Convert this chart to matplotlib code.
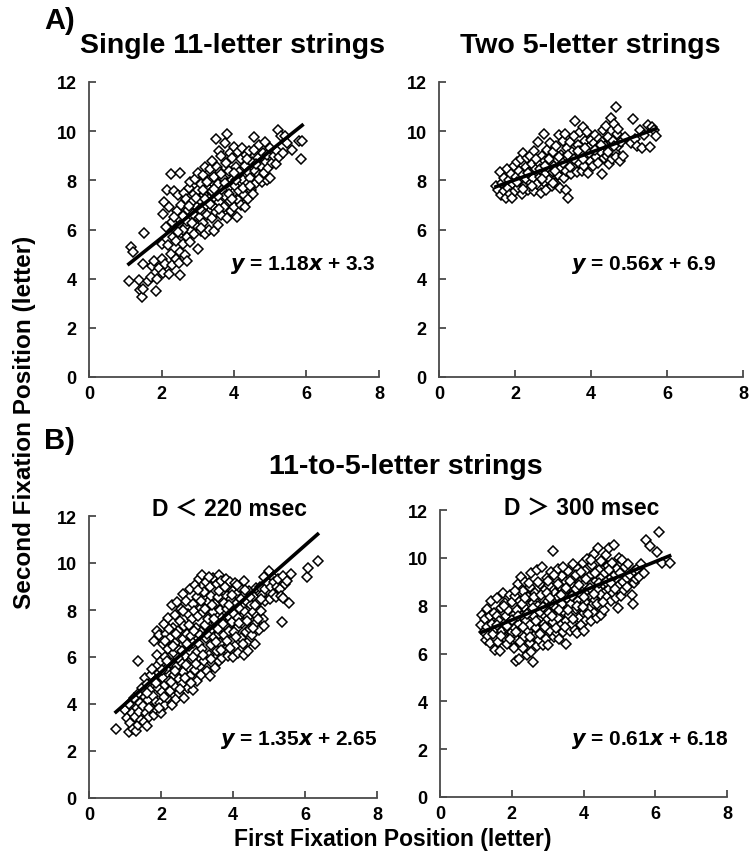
import matplotlib
matplotlib.use("Agg")
import matplotlib.pyplot as plt
import numpy as np

plt.rcParams['font.family'] = ['Liberation Sans', 'DejaVu Sans']
plt.rcParams['font.weight'] = 'bold'

# Single 11-letter strings (first fixation, second fixation)
single_pts = [
    (1.10, 3.90), (1.15, 5.30), (1.22, 5.10), (1.38, 3.95), (1.40, 3.55), (1.45, 3.25), (1.48, 3.60),
    (1.50, 4.60), (1.52, 5.85), (1.62, 3.90), (1.70, 4.05), (1.75, 4.50), (1.80, 4.70), (1.85, 3.50),
    (1.88, 4.00), (1.92, 4.45),
    (2.00, 4.80), (2.02, 5.40), (2.05, 4.25), (2.05, 6.65), (2.08, 7.10), (2.10, 4.60), (2.12, 6.10),
    (2.15, 7.60), (2.18, 5.35), (2.20, 4.20), (2.22, 6.90), (2.25, 5.00), (2.25, 8.25), (2.28, 6.30),
    (2.30, 4.55), (2.32, 5.70), (2.35, 7.55), (2.38, 6.00), (2.40, 4.80), (2.40, 5.55), (2.42, 6.75),
    (2.45, 7.40), (2.48, 4.65), (2.50, 8.30), (2.50, 6.20), (2.50, 4.15),
    (2.52, 5.10), (2.55, 5.85), (2.55, 7.00), (2.58, 6.55), (2.60, 5.40), (2.62, 7.50), (2.65, 4.95),
    (2.65, 6.10), (2.68, 7.25), (2.70, 4.70), (2.70, 5.70), (2.72, 6.80), (2.75, 7.70), (2.78, 5.50),
    (2.80, 6.40), (2.80, 7.95), (2.82, 5.95), (2.85, 7.10), (2.88, 6.65), (2.90, 5.80), (2.90, 7.45),
    (2.92, 8.05), (2.95, 6.20), (2.98, 6.90), (3.00, 5.20), (3.00, 7.60),
    (3.02, 8.30), (3.05, 6.50), (3.05, 7.20), (3.08, 5.95), (3.10, 7.85), (3.12, 6.80), (3.15, 8.20),
    (3.15, 6.25), (3.18, 7.40), (3.20, 5.80), (3.20, 8.55), (3.22, 7.00), (3.25, 6.60), (3.28, 7.70),
    (3.30, 8.00), (3.30, 6.00), (3.32, 7.25), (3.35, 8.45), (3.38, 6.45), (3.40, 7.55), (3.40, 8.80),
    (3.42, 6.95), (3.45, 5.95), (3.45, 8.15), (3.48, 7.30), (3.50, 9.70), (3.50, 6.70),
    (3.52, 8.55), (3.55, 7.85), (3.55, 6.20), (3.58, 9.20), (3.60, 7.10), (3.62, 8.35), (3.65, 6.60),
    (3.65, 9.00), (3.68, 7.60), (3.70, 8.10), (3.72, 6.90), (3.75, 9.50), (3.75, 7.35), (3.78, 8.70),
    (3.80, 6.45), (3.80, 9.90), (3.82, 7.90), (3.85, 8.40), (3.88, 7.15), (3.90, 9.10), (3.92, 6.75),
    (3.95, 8.00), (3.95, 8.90), (3.98, 7.50), (4.00, 9.35), (4.00, 6.90),
    (4.02, 7.75), (4.05, 8.55), (4.08, 6.50), (4.10, 7.20), (4.10, 9.15), (4.12, 8.20), (4.15, 7.55),
    (4.18, 8.85), (4.20, 7.00), (4.22, 9.30), (4.25, 8.00), (4.28, 7.40), (4.30, 6.90), (4.30, 8.60),
    (4.32, 9.05), (4.35, 7.85), (4.38, 8.35), (4.40, 7.25), (4.42, 9.20), (4.45, 8.10), (4.48, 7.60),
    (4.50, 8.75),
    (4.52, 7.45), (4.55, 9.25), (4.55, 9.75), (4.58, 8.40), (4.60, 7.90), (4.65, 8.90), (4.68, 8.20),
    (4.70, 9.45), (4.75, 8.60), (4.78, 7.95), (4.80, 9.10), (4.82, 8.30), (4.85, 9.55), (4.88, 8.75),
    (4.90, 8.00), (4.92, 9.05), (4.95, 8.50), (5.00, 8.10), (5.00, 9.30),
    (5.05, 8.70), (5.10, 9.00), (5.15, 8.65), (5.18, 9.20), (5.20, 10.05), (5.25, 8.95), (5.30, 9.80),
    (5.35, 9.10), (5.40, 9.80), (5.45, 9.50), (5.60, 9.25), (5.80, 9.60), (5.88, 9.60), (5.85, 8.85),
    (2.60, 6.00), (2.70, 6.35), (2.85, 6.25), (2.95, 7.30), (3.05, 6.85), (3.15, 7.60), (3.25, 7.95),
    (3.35, 7.05), (3.45, 7.65), (3.55, 7.35), (3.65, 8.25), (3.75, 7.90), (3.85, 7.45), (3.95, 7.25),
    (4.05, 8.00), (4.15, 8.35), (4.25, 7.70), (4.35, 8.85), (4.45, 7.75), (4.60, 8.65), (4.70, 8.05),
    (2.35, 6.50), (2.45, 5.90), (3.10, 6.05), (3.60, 6.85), (4.00, 8.30), (3.20, 7.25), (2.75, 6.95),
]

# Two 5-letter strings
two_pts = [
    (1.50, 7.75), (1.55, 7.60), (1.60, 8.35), (1.62, 7.40), (1.65, 7.90), (1.70, 8.10), (1.72, 7.55),
    (1.75, 7.30), (1.80, 8.45), (1.82, 7.70), (1.85, 8.00), (1.88, 7.45), (1.90, 8.25), (1.92, 7.30),
    (1.95, 7.85), (1.98, 8.60), (2.00, 7.55),
    (2.02, 8.15), (2.05, 8.75), (2.08, 7.70), (2.10, 8.40), (2.12, 7.95), (2.15, 8.85), (2.18, 7.45),
    (2.20, 8.20), (2.22, 9.10), (2.25, 7.80), (2.28, 8.55), (2.30, 8.05), (2.32, 8.90), (2.35, 7.60),
    (2.38, 8.35), (2.40, 9.00), (2.42, 7.90), (2.45, 8.65), (2.48, 8.10), (2.50, 7.55), (2.50, 9.20),
    (2.55, 8.45), (2.58, 7.85), (2.60, 9.55), (2.62, 8.70), (2.65, 8.15), (2.68, 7.50), (2.70, 9.00),
    (2.72, 8.40), (2.75, 9.90), (2.75, 7.95), (2.78, 8.80), (2.80, 8.25), (2.82, 7.60), (2.85, 9.25),
    (2.88, 8.55), (2.90, 8.00), (2.92, 9.50), (2.95, 8.75), (2.98, 7.75), (3.00, 8.35), (3.00, 9.15),
    (3.02, 8.60), (3.05, 7.90), (3.08, 9.40), (3.10, 8.85), (3.12, 8.20), (3.15, 9.85), (3.18, 7.70),
    (3.20, 9.05), (3.22, 8.50), (3.25, 9.60), (3.28, 8.10), (3.30, 8.90), (3.32, 9.90), (3.35, 7.60),
    (3.35, 8.40), (3.38, 9.30), (3.40, 7.30), (3.42, 8.75), (3.45, 9.55), (3.48, 8.25), (3.50, 9.15),
    (3.52, 8.55), (3.55, 9.80), (3.58, 10.40), (3.60, 8.90), (3.62, 8.35), (3.65, 9.45), (3.68, 8.70),
    (3.70, 9.95), (3.72, 9.20), (3.75, 8.40), (3.78, 10.15), (3.80, 9.05), (3.82, 8.60), (3.85, 9.60),
    (3.88, 8.95), (3.90, 9.95), (3.92, 8.30), (3.95, 9.35), (3.98, 8.80), (4.00, 9.65),
    (4.02, 9.10), (4.05, 8.60), (4.08, 9.50), (4.10, 9.85), (4.12, 8.95), (4.15, 9.30), (4.18, 8.70),
    (4.22, 9.70), (4.25, 9.15), (4.28, 8.25), (4.30, 9.55), (4.32, 10.05), (4.35, 8.90), (4.38, 9.40),
    (4.40, 10.20), (4.42, 9.00), (4.45, 9.75), (4.48, 8.65), (4.50, 9.30),
    (4.52, 10.55), (4.55, 8.85), (4.58, 9.60), (4.60, 10.30), (4.62, 9.15), (4.65, 11.00), (4.65, 8.95),
    (4.68, 9.90), (4.70, 9.40), (4.72, 10.10), (4.75, 8.80), (4.80, 9.55), (4.85, 9.00), (4.90, 9.75),
    (5.05, 9.50), (5.10, 10.50), (5.15, 9.70), (5.20, 9.40), (5.30, 10.05), (5.35, 9.30), (5.40, 9.85),
    (5.50, 10.25), (5.55, 9.35), (5.60, 10.15), (5.65, 10.05), (5.70, 9.80),
    (2.05, 7.95), (2.20, 7.65), (2.35, 8.30), (2.45, 7.75), (2.55, 8.85), (2.65, 8.45), (2.80, 8.60),
    (2.90, 8.85), (3.05, 8.40), (3.15, 8.95), (3.25, 8.70), (3.40, 9.05), (3.55, 8.85), (3.65, 9.20),
    (3.80, 8.85), (3.95, 9.10), (4.10, 9.25), (4.25, 9.45), (4.45, 9.15), (4.60, 9.40), (3.00, 7.90),
    (2.70, 8.05), (3.45, 8.55), (3.85, 9.30),
]

# 11-to-5-letter strings, D < 220 msec
short_pts = [
    (0.75, 2.95), (1.00, 3.75), (1.05, 3.40), (1.10, 2.80), (1.12, 4.00), (1.15, 3.20), (1.20, 3.60),
    (1.22, 2.95), (1.25, 4.25), (1.28, 3.45), (1.30, 2.85), (1.32, 3.85), (1.35, 5.85), (1.35, 3.10),
    (1.38, 4.45), (1.40, 3.65), (1.42, 4.05), (1.45, 3.30), (1.48, 4.70), (1.50, 3.90),
    (1.52, 3.25), (1.55, 5.10), (1.55, 4.30), (1.58, 3.60), (1.60, 4.85), (1.62, 3.05), (1.65, 4.15),
    (1.68, 3.45), (1.70, 4.60), (1.72, 5.25), (1.75, 3.80), (1.78, 4.35), (1.80, 3.55), (1.80, 6.70),
    (1.82, 5.00), (1.85, 4.10), (1.88, 7.10), (1.88, 5.60), (1.90, 3.75), (1.90, 6.10), (1.92, 4.70),
    (1.95, 5.30), (1.95, 6.95), (1.98, 4.05), (2.00, 5.85), (2.00, 3.60),
    (2.02, 4.50), (2.05, 6.55), (2.05, 5.10), (2.08, 7.40), (2.10, 3.95), (2.10, 6.00), (2.12, 4.80),
    (2.15, 7.00), (2.15, 5.50), (2.18, 4.25), (2.20, 6.35), (2.20, 7.65), (2.22, 5.00), (2.25, 4.55),
    (2.25, 6.80), (2.28, 5.75), (2.30, 8.20), (2.30, 3.95), (2.32, 7.25), (2.35, 5.25), (2.35, 6.15),
    (2.38, 4.75), (2.40, 7.80), (2.40, 6.60), (2.42, 4.20), (2.45, 5.60), (2.45, 8.35), (2.48, 7.10),
    (2.50, 5.05), (2.50, 6.30), (2.50, 4.45),
    (2.52, 7.55), (2.55, 5.80), (2.55, 8.05), (2.58, 4.85), (2.60, 6.75), (2.60, 8.70), (2.62, 5.35),
    (2.65, 7.30), (2.65, 4.25), (2.68, 6.05), (2.70, 8.40), (2.70, 5.65), (2.72, 7.00), (2.75, 4.70),
    (2.75, 7.85), (2.78, 6.45), (2.80, 8.90), (2.80, 5.20), (2.82, 6.90), (2.85, 7.60), (2.85, 5.90),
    (2.88, 8.25), (2.90, 4.60), (2.90, 6.60), (2.92, 7.95), (2.95, 5.45), (2.95, 9.05), (2.98, 7.25),
    (3.00, 6.20), (3.00, 8.55), (3.00, 5.00),
    (3.02, 7.75), (3.05, 6.55), (3.05, 9.30), (3.08, 5.60), (3.10, 8.10), (3.10, 7.05), (3.12, 5.25),
    (3.15, 9.50), (3.15, 6.35), (3.18, 7.90), (3.20, 8.75), (3.20, 5.85), (3.22, 7.35), (3.25, 6.80),
    (3.25, 9.20), (3.28, 5.40), (3.30, 8.35), (3.30, 7.60), (3.32, 6.10), (3.35, 9.00), (3.35, 5.20),
    (3.38, 7.15), (3.40, 8.60), (3.40, 6.50), (3.42, 5.75), (3.45, 7.90), (3.45, 9.35), (3.48, 6.85),
    (3.50, 8.25), (3.50, 5.55),
    (3.52, 7.45), (3.55, 9.10), (3.55, 6.25), (3.58, 8.55), (3.60, 5.85), (3.60, 9.50), (3.62, 7.00),
    (3.65, 8.00), (3.65, 6.60), (3.68, 9.25), (3.70, 7.65), (3.70, 5.95), (3.72, 8.85), (3.75, 6.95),
    (3.75, 8.30), (3.78, 7.35), (3.80, 9.30), (3.80, 6.35), (3.82, 8.05), (3.85, 7.75), (3.85, 6.05),
    (3.88, 8.95), (3.90, 7.10), (3.92, 9.20), (3.95, 6.70), (3.95, 8.45), (3.98, 7.50), (4.00, 6.00),
    (4.00, 8.80),
    (4.02, 7.85), (4.05, 9.15), (4.05, 6.45), (4.08, 8.25), (4.10, 7.25), (4.12, 8.70), (4.15, 6.15),
    (4.15, 7.65), (4.18, 9.00), (4.20, 8.05), (4.22, 6.80), (4.25, 7.45), (4.28, 8.60), (4.30, 6.10),
    (4.30, 9.25), (4.32, 7.90), (4.35, 7.05), (4.38, 8.35), (4.40, 6.60), (4.42, 7.70), (4.45, 8.80),
    (4.48, 7.20), (4.50, 8.20),
    (4.52, 6.95), (4.55, 7.90), (4.58, 8.55), (4.60, 6.55), (4.62, 7.40), (4.65, 8.95), (4.68, 7.75),
    (4.70, 8.35), (4.72, 7.15), (4.75, 9.00), (4.78, 7.95), (4.80, 8.65), (4.82, 7.60), (4.85, 7.30),
    (4.88, 8.90), (4.90, 8.40), (4.95, 9.20),
    (5.00, 9.65), (5.02, 8.45), (5.05, 9.00), (5.10, 8.70), (5.12, 9.40), (5.15, 9.20), (5.20, 8.55),
    (5.22, 9.00), (5.25, 9.30), (5.30, 8.90), (5.32, 8.60), (5.35, 7.50), (5.38, 8.50), (5.40, 9.45),
    (5.45, 9.10), (5.50, 9.25), (5.55, 8.30), (5.60, 9.55), (6.05, 9.40), (6.08, 9.80), (6.35, 10.10),
    (1.62, 4.45), (1.68, 3.85), (1.75, 5.50), (1.85, 4.90), (1.95, 3.85), (2.02, 5.45), (2.08, 4.30),
    (2.12, 6.70), (2.18, 5.85), (2.22, 7.20), (2.28, 4.95), (2.32, 6.45), (2.38, 5.40), (2.42, 7.00),
    (2.48, 5.95), (2.52, 4.65), (2.58, 6.25), (2.62, 7.95), (2.68, 5.10), (2.72, 6.55), (2.78, 7.35),
    (2.82, 4.90), (2.88, 6.00), (2.92, 7.10), (2.98, 5.70), (3.02, 8.85), (3.08, 6.95), (3.12, 8.40),
    (3.18, 6.10), (3.22, 8.05), (3.28, 7.00), (3.32, 9.40), (3.38, 5.90), (3.42, 8.20), (3.48, 7.60),
    (3.52, 6.65), (3.58, 7.20), (3.62, 8.80), (3.68, 6.30), (3.72, 7.40), (3.78, 9.00), (3.82, 6.70),
    (3.88, 8.20), (3.92, 6.40), (3.98, 8.65), (4.02, 7.05), (4.08, 6.85), (4.12, 9.05), (4.18, 7.45),
    (4.22, 8.45), (4.28, 6.55), (4.32, 8.85), (4.38, 7.55), (4.42, 6.25), (4.48, 8.55), (4.55, 7.25),
    (4.62, 8.20), (4.70, 7.60), (4.78, 8.45), (4.85, 9.40),
]

# 11-to-5-letter strings, D > 300 msec
long_pts = [
    (1.15, 7.20), (1.18, 7.60), (1.22, 6.90), (1.25, 7.45), (1.28, 6.55), (1.30, 7.85), (1.32, 7.10),
    (1.35, 6.75), (1.38, 7.55), (1.40, 6.45), (1.42, 8.20), (1.45, 7.25), (1.48, 6.80), (1.50, 7.70),
    (1.52, 6.15), (1.55, 7.05), (1.58, 7.55), (1.60, 8.30), (1.62, 6.50), (1.65, 7.35), (1.68, 6.10),
    (1.70, 7.90), (1.72, 6.95), (1.75, 8.55), (1.78, 7.25), (1.80, 6.65), (1.82, 8.10), (1.85, 7.55),
    (1.88, 6.40), (1.90, 7.80), (1.92, 7.00), (1.95, 8.45), (1.98, 7.35), (2.00, 6.90),
    (2.02, 8.15), (2.05, 7.60), (2.05, 6.25), (2.08, 7.05), (2.10, 8.40), (2.12, 5.70), (2.15, 7.80),
    (2.15, 6.55), (2.18, 8.90), (2.20, 7.25), (2.20, 5.75), (2.22, 8.20), (2.25, 6.85), (2.25, 9.20),
    (2.28, 7.55), (2.30, 6.25), (2.32, 8.60), (2.35, 7.95), (2.35, 6.70), (2.38, 9.00), (2.40, 7.35),
    (2.42, 5.95), (2.45, 8.35), (2.45, 6.95), (2.48, 7.75), (2.50, 6.45), (2.50, 8.80),
    (2.52, 7.20), (2.55, 9.35), (2.55, 6.05), (2.58, 8.10), (2.60, 5.65), (2.60, 7.60), (2.62, 6.75),
    (2.65, 8.55), (2.68, 7.05), (2.70, 9.50), (2.70, 6.30), (2.72, 8.00), (2.75, 7.40), (2.75, 6.55),
    (2.78, 8.90), (2.80, 7.75), (2.82, 6.90), (2.85, 9.60), (2.85, 8.30), (2.88, 6.35), (2.90, 7.25),
    (2.92, 8.65), (2.95, 7.85), (2.95, 6.60), (2.98, 9.15), (3.00, 7.45), (3.00, 8.20),
    (3.02, 6.35), (3.05, 8.85), (3.05, 7.70), (3.08, 6.95), (3.10, 9.40), (3.12, 8.05), (3.15, 10.30),
    (3.15, 7.30), (3.18, 6.70), (3.20, 8.55), (3.20, 9.15), (3.22, 7.90), (3.25, 6.85), (3.28, 8.35),
    (3.30, 7.50), (3.30, 9.55), (3.32, 6.60), (3.35, 8.80), (3.38, 7.20), (3.40, 9.25), (3.40, 8.05),
    (3.42, 6.90), (3.45, 7.75), (3.48, 8.60), (3.50, 9.00), (3.50, 7.35),
    (3.52, 6.40), (3.55, 8.30), (3.58, 9.45), (3.60, 7.60), (3.62, 6.95), (3.65, 8.90), (3.65, 8.05),
    (3.68, 7.25), (3.70, 9.75), (3.72, 8.50), (3.75, 7.00), (3.75, 9.20), (3.78, 7.85), (3.80, 8.70),
    (3.82, 6.85), (3.85, 9.55), (3.85, 8.20), (3.88, 7.50), (3.90, 9.00), (3.92, 7.20), (3.95, 8.45),
    (3.98, 9.80), (4.00, 7.70), (4.00, 6.95),
    (4.02, 8.90), (4.05, 9.45), (4.05, 8.15), (4.08, 7.40), (4.10, 9.95), (4.12, 8.60), (4.15, 7.85),
    (4.18, 9.25), (4.20, 7.35), (4.22, 8.40), (4.25, 9.70), (4.25, 8.95), (4.28, 7.70), (4.30, 10.15),
    (4.32, 8.25), (4.35, 9.05), (4.38, 7.50), (4.40, 10.40), (4.40, 8.70), (4.42, 9.50), (4.45, 7.95),
    (4.48, 9.15), (4.50, 8.45), (4.50, 7.60),
    (4.52, 9.85), (4.55, 8.90), (4.58, 7.80), (4.60, 9.35), (4.62, 10.10), (4.65, 8.35), (4.68, 9.65),
    (4.70, 8.70), (4.72, 10.40), (4.75, 9.10), (4.78, 8.20), (4.80, 9.80), (4.82, 8.55), (4.85, 10.55),
    (4.88, 9.30), (4.90, 8.30), (4.92, 9.55), (4.95, 7.90), (4.98, 10.00), (5.00, 8.85),
    (5.02, 9.35), (5.05, 8.40), (5.08, 9.90), (5.10, 9.00), (5.12, 8.65), (5.15, 9.60), (5.20, 9.15),
    (5.22, 8.80), (5.25, 9.75), (5.30, 9.30), (5.35, 8.45), (5.38, 8.05), (5.40, 8.95), (5.42, 9.45),
    (5.45, 9.10), (5.50, 9.55), (5.55, 9.20), (5.60, 9.75), (5.70, 9.35), (5.75, 10.75), (5.85, 10.50),
    (6.05, 10.25), (6.10, 11.10), (6.20, 9.80), (6.40, 9.80),
    (1.60, 7.20), (1.70, 6.75), (1.78, 8.00), (1.88, 7.15), (1.95, 6.60), (2.02, 7.40), (2.08, 8.60),
    (2.12, 6.90), (2.18, 7.55), (2.22, 6.50), (2.28, 8.05), (2.32, 7.10), (2.38, 8.30), (2.42, 7.65),
    (2.48, 8.95), (2.52, 6.70), (2.58, 7.90), (2.62, 8.35), (2.68, 7.35), (2.72, 9.00), (2.78, 6.80),
    (2.82, 8.45), (2.88, 7.95), (2.92, 7.10), (2.98, 8.55), (3.02, 9.05), (3.08, 8.30), (3.12, 7.55),
    (3.18, 9.30), (3.22, 7.05), (3.28, 8.90), (3.32, 7.80), (3.38, 8.45), (3.42, 9.60), (3.48, 7.10),
    (3.52, 8.75), (3.58, 7.80), (3.62, 9.05), (3.68, 8.40), (3.72, 7.45), (3.78, 9.30), (3.82, 8.00),
    (3.88, 8.85), (3.92, 9.40), (3.98, 7.95), (4.02, 8.35), (4.08, 9.10), (4.12, 7.65), (4.18, 8.75),
    (4.22, 9.90), (4.28, 8.50), (4.32, 9.35), (4.38, 8.05), (4.42, 8.95), (4.48, 9.85), (4.55, 8.15),
    (4.62, 9.00), (4.70, 9.50), (4.78, 8.95), (4.88, 8.70),
]

# regression lines (slope, intercept) as printed on the panels
slopes = [1.18, 0.56, 1.35, 0.61]
intercepts = [3.3, 6.9, 2.65, 6.18]
equations = ["1.18", "0.56", "1.35", "0.61"]
eq_consts = ["3.3", "6.9", "2.65", "6.18"]
titles = ["Single 11-letter strings", "Two 5-letter strings", "D \uff1c 220 msec", "D \uff1e 300 msec"]

W, H = 749, 862
fig = plt.figure(figsize=(W / 100, H / 100), dpi=100)

def fx(px):
    return px / W

def fy(py):
    return 1 - py / H

# axes boxes in pixels: left, top, right, bottom
boxes = [(89, 83, 379, 378), (439, 83, 743, 378), (89, 517, 377, 799), (440, 511, 727, 798)]
datasets = [single_pts, two_pts, short_pts, long_pts]
gray = '#4a4a4a'

for (l, t, r, b), pts, m, c in zip(boxes, datasets, slopes, intercepts):
    ax = fig.add_axes([fx(l), fy(b), fx(r - l), (b - t) / H])
    pts = np.array(pts)
    ax.plot(pts[:, 0], pts[:, 1], linestyle='none', marker='D', markersize=5.0,
            markerfacecolor='white', markeredgecolor='black', markeredgewidth=1.1, zorder=2)
    xl = np.array([pts[:, 0].min(), pts[:, 0].max()])
    ax.plot(xl, m * xl + c, color='black', lw=2.6, zorder=3)
    ax.set_xlim(0, 8)
    ax.set_ylim(0, 12)
    ax.set_xticks([0, 2, 4, 6, 8])
    ax.set_yticks([0, 2, 4, 6, 8, 10, 12])
    for s in ['top', 'right']:
        ax.spines[s].set_visible(False)
    for s in ['left', 'bottom']:
        ax.spines[s].set_color(gray)
        ax.spines[s].set_linewidth(1.3)
    ax.tick_params(direction='in', length=5, width=1.3, color=gray, labelsize=13, pad=6)
    ax.tick_params(axis='y', pad=9)
    for lab in ax.get_xticklabels() + ax.get_yticklabels():
        lab.set_fontweight('bold')

# panel titles
fig.text(fx(232), fy(46), titles[0], ha='center', va='center', fontsize=20.5)
fig.text(fx(590), fy(46), titles[1], ha='center', va='center', fontsize=20.5)
fig.text(fx(230), fy(509), titles[2], ha='center', va='center', fontsize=16.5,
         family=['Liberation Sans', 'Noto Sans CJK JP'])
fig.text(fx(582), fy(508), titles[3], ha='center', va='center', fontsize=16.5,
         family=['Liberation Sans', 'Noto Sans CJK JP'])
fig.text(fx(406), fy(467), "11-to-5-letter strings", ha='center', va='center', fontsize=20.5)

fig.text(fx(44), fy(21), "A)", ha='left', va='center', fontsize=21)
fig.text(fx(44), fy(441), "B)", ha='left', va='center', fontsize=21)

# equations (right edges in pixels, centre height)
eq_pos = [(376, 265), (717, 265), (377, 740), (728, 740)]
for (px, py), e, k in zip(eq_pos, equations, eq_consts):
    fig.text(fx(px), fy(py), r"$\boldsymbol{y}$" + " = " + e + r"$\boldsymbol{x}$" + " + " + k,
             ha='right', va='center', fontsize=15)

fig.text(fx(393), fy(840), "First Fixation Position (letter)", ha='center', va='center', fontsize=16.5)
fig.text(fx(25), fy(422), "Second Fixation Position (letter)", ha='center', va='center',
         rotation=90, fontsize=17.5)

fig.savefig("out.png", dpi=100)
